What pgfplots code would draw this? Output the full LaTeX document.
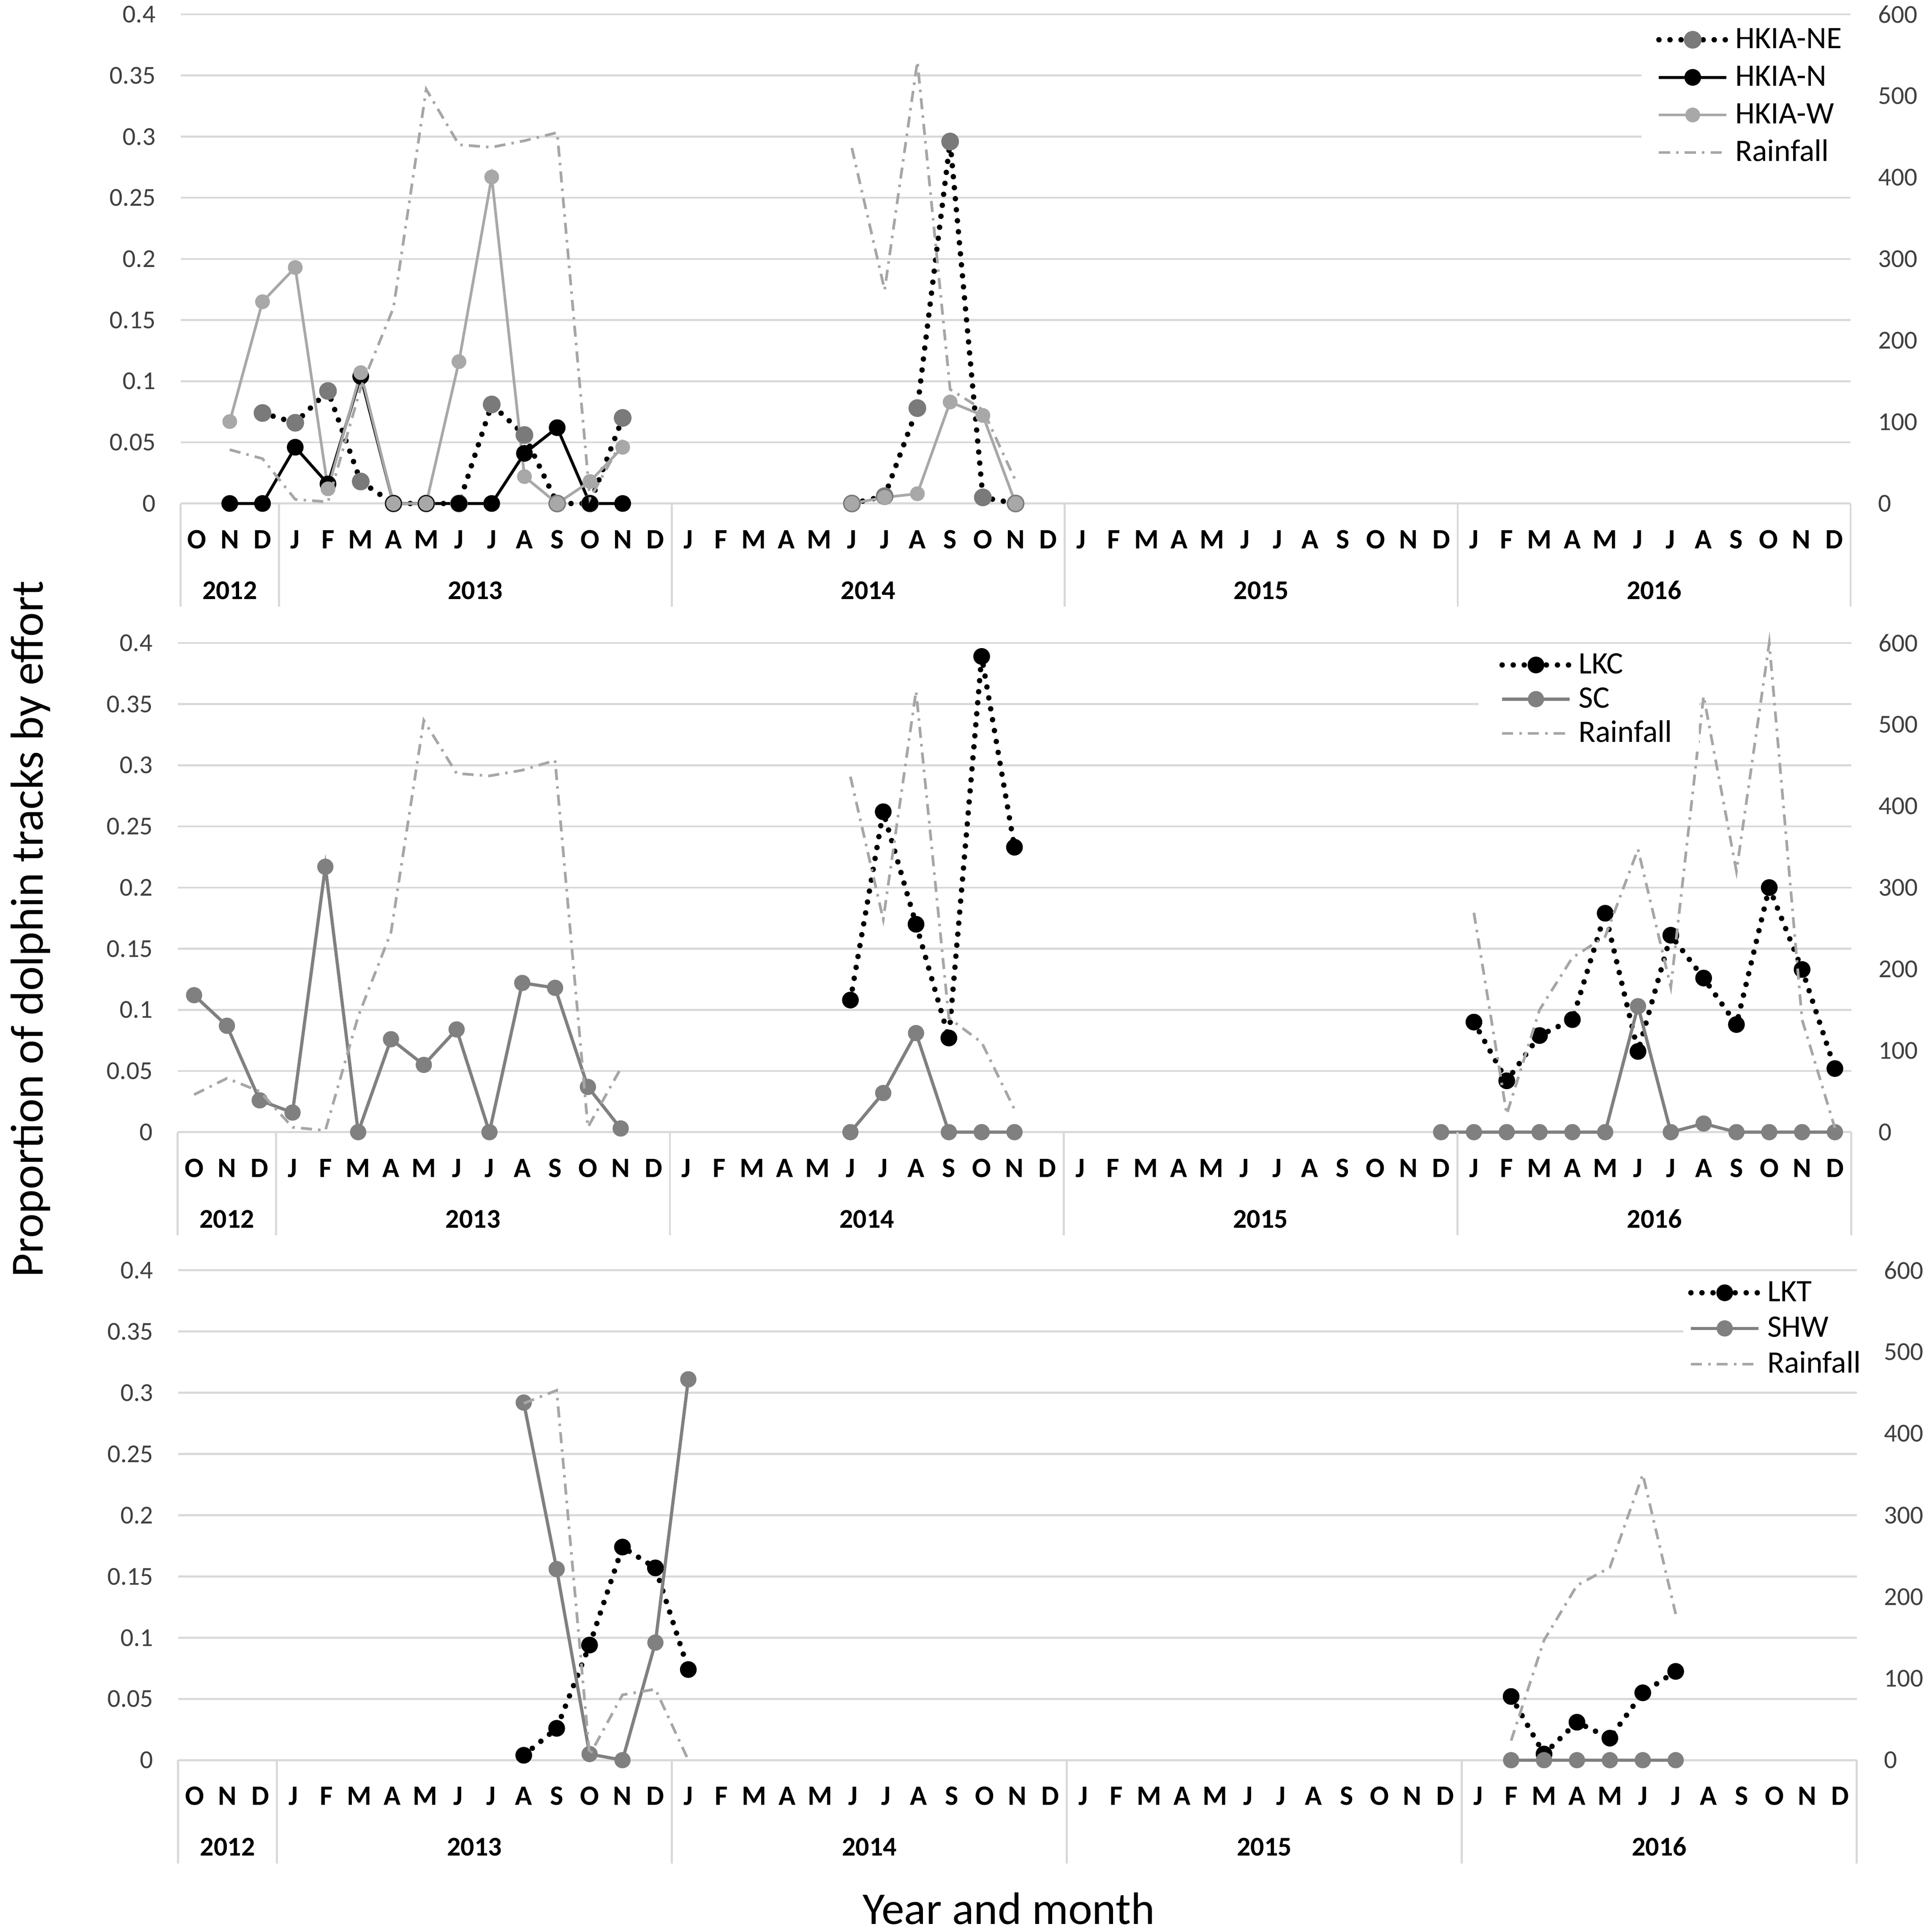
\documentclass[border=0pt]{standalone}
\usepackage{fontspec}
\setmainfont{Carlito}
\usepackage{pgfplots}
\pgfplotsset{compat=1.18}
\definecolor{gridc}{HTML}{D9D9D9}
\definecolor{sepc}{HTML}{D9D9D9}
\definecolor{negray}{HTML}{7A7A7A}
\definecolor{wgray}{HTML}{A8A8A8}
\definecolor{scgray}{HTML}{808080}
\definecolor{rainc}{HTML}{A6A6A6}
\definecolor{tickc}{HTML}{404040}

\tikzset{yearlab/.style={font=\bfseries\fontsize{11}{13}\selectfont, inner sep=0pt, text height=6.9pt, text depth=0pt, yshift=-35.5pt}}

\pgfplotsset{
 dotline/.style={black, line width=2.2pt, dash pattern=on 0pt off 4.5pt, line cap=round},
 nestyle/.style={dotline, mark=*, mark size=3.5pt, mark options={solid, line width=0.2pt, draw=negray, fill=negray}},
 nstyle/.style={black, line width=1.2pt, solid, mark=*, mark size=3.3pt, mark options={solid, line width=0.2pt, draw=black, fill=black}},
 wstyle/.style={wgray, line width=1.1pt, solid, mark=*, mark size=2.9pt, mark options={solid, line width=0.2pt, draw=wgray, fill=wgray}},
 blkdot/.style={dotline, mark=*, mark size=3.3pt, mark options={solid, line width=0.2pt, draw=black, fill=black}},
 graysolid/.style={scgray, line width=1.3pt, solid, mark=*, mark size=3.2pt, mark options={solid, line width=0.2pt, draw=scgray, fill=scgray}},
 rainstyle/.style={rainc, line width=1.1pt, dash pattern=on 4.5pt off 2.5pt on 1pt off 2.5pt, mark=none},
 base/.style={scale only axis, anchor=south west, xmin=-0.5, xmax=50.5, clip=false,
   unbounded coords=jump, axis line style={draw=none}, major tick length=0pt},
 leftax/.style={base, ymin=0, ymax=0.4,
   ytick={0,0.05,0.1,0.15,0.2,0.25,0.3,0.35,0.4},
   yticklabels={0,0.05,0.1,0.15,0.2,0.25,0.3,0.35,0.4},
   ymajorgrids, major grid style={gridc, line width=0.8pt},
   axis x line*=bottom, axis y line*=left,
   xtick={0,...,50},
   xticklabels={O,N,D,J,F,M,A,M,J,J,A,S,O,N,D,J,F,M,A,M,J,J,A,S,O,N,D,J,F,M,A,M,J,J,A,S,O,N,D,J,F,M,A,M,J,J,A,S,O,N,D},
   xticklabel style={font=\bfseries\fontsize{11.4}{13}\selectfont, inner sep=0pt, text height=7.3pt, text depth=0pt, yshift=-10.8pt},
   yticklabel style={font=\fontsize{10.5}{12}\selectfont, text=tickc, inner sep=0pt, xshift=-10pt}},
 rightax/.style={base, ymin=0, ymax=600,
   ytick={0,100,200,300,400,500,600}, yticklabels={0,100,200,300,400,500,600},
   axis x line=none, axis y line*=right,
   yticklabel style={font=\fontsize{10.5}{12}\selectfont, text=tickc, inner sep=0pt, xshift=11pt},
   legend cell align=left,
   legend image code/.code={\draw[mark repeat=2,mark phase=2,##1] plot coordinates {(0pt,0pt)(13.75pt,0pt)(27.5pt,0pt)};},
   legend style={anchor=north west, font=\fontsize{12.7}{14}\selectfont, draw=none, fill=white,
     inner ysep=0.5pt, row sep=0pt, column sep=0pt,
     nodes={inner xsep=2.5pt, text height=9.6pt, text depth=2.6pt}}},
}

\newcommand{\yearbox}{%
  \draw[sepc, line width=0.8pt] (axis cs:-0.5,0) -- ++(0pt,-42pt);
  \draw[sepc, line width=0.8pt] (axis cs:2.5,0) -- ++(0pt,-42pt);
  \draw[sepc, line width=0.8pt] (axis cs:14.5,0) -- ++(0pt,-42pt);
  \draw[sepc, line width=0.8pt] (axis cs:26.5,0) -- ++(0pt,-42pt);
  \draw[sepc, line width=0.8pt] (axis cs:38.5,0) -- ++(0pt,-42pt);
  \draw[sepc, line width=0.8pt] (axis cs:50.5,0) -- ++(0pt,-42pt);
  \node[yearlab] at (axis cs:1,0) {2012};
  \node[yearlab] at (axis cs:8.5,0) {2013};
  \node[yearlab] at (axis cs:20.5,0) {2014};
  \node[yearlab] at (axis cs:32.5,0) {2015};
  \node[yearlab] at (axis cs:44.5,0) {2016};
}

\begin{document}
\begin{tikzpicture}
\useasboundingbox (0,0) rectangle (784pt,786pt);

% ---------------- Panel 1 ----------------
\begin{axis}[leftax, at={(73.5pt,581.15pt)}, width=679.5pt, height=199pt]
\addplot[nestyle] coordinates {(2,0.074)(3,0.066)(4,0.092)(5,0.018)(6,0)(7,0)(8,0)(9,0.081)(10,0.056)(11,0)(12,0)(13,0.070)(14,nan)(20,0)(21,0.006)(22,0.078)(23,0.296)(24,0.005)(25,0)};
\addplot[nstyle] coordinates {(1,0)(2,0)(3,0.046)(4,0.016)(5,0.104)(6,0)(7,0)(8,0)(9,0)(10,0.041)(11,0.062)(12,0)(13,0)};
\addplot[wstyle] coordinates {(1,0.067)(2,0.165)(3,0.193)(4,0.012)(5,0.107)(6,0)(7,0)(8,0.116)(9,0.267)(10,0.022)(11,0)(12,0.018)(13,0.046)(14,nan)(20,0)(21,0.005)(22,0.008)(23,0.083)(24,0.072)(25,0)};
\yearbox
\end{axis}
\begin{axis}[rightax, at={(73.5pt,581.15pt)}, width=679.5pt, height=199pt,
  legend style={at={(0.8745,0.99)}, inner xsep=6pt, nodes={inner ysep=1.55pt}}]
\addlegendimage{nestyle}\addlegendentry{HKIA-NE}
\addlegendimage{nstyle}\addlegendentry{HKIA-N}
\addlegendimage{wstyle}\addlegendentry{HKIA-W}
\addplot[rainstyle] coordinates {(1,66)(2,55)(3,5)(4,2)(5,142)(6,240)(7,508)(8,440)(9,437)(10,445)(11,455)(12,6)(13,78)(14,nan)(20,436)(21,262)(22,542)(23,140)(24,115)(25,28)};
\addlegendentry{Rainfall}
\end{axis}

% ---------------- Panel 2 ----------------
\begin{axis}[leftax, at={(72.3pt,325.4pt)}, width=681pt, height=199pt]
\addplot[blkdot] coordinates {(20,0.108)(21,0.262)(22,0.170)(23,0.077)(24,0.389)(25,0.233)(26,nan)(39,0.090)(40,0.042)(41,0.079)(42,0.092)(43,0.179)(44,0.066)(45,0.161)(46,0.126)(47,0.088)(48,0.200)(49,0.133)(50,0.052)};
\addplot[graysolid] coordinates {(0,0.112)(1,0.087)(2,0.026)(3,0.016)(4,0.217)(5,0)(6,0.076)(7,0.055)(8,0.084)(9,0)(10,0.122)(11,0.118)(12,0.037)(13,0.003)(14,nan)(20,0)(21,0.032)(22,0.081)(23,0)(24,0)(25,0)(26,nan)(38,0)(39,0)(40,0)(41,0)(42,0)(43,0)(44,0.103)(45,0)(46,0.007)(47,0)(48,0)(49,0)(50,0)};
\yearbox
\end{axis}
\begin{axis}[rightax, at={(72.3pt,325.4pt)}, width=681pt, height=199pt,
  legend style={at={(0.777,0.9935)}, inner xsep=8.5pt, nodes={inner ysep=0.85pt}}]
\addlegendimage{blkdot}\addlegendentry{LKC}
\addlegendimage{graysolid}\addlegendentry{SC}
\addplot[rainstyle] coordinates {(0,46)(1,66)(2,50)(3,6)(4,2)(5,142)(6,245)(7,505)(8,440)(9,437)(10,444)(11,456)(12,6)(13,78)(14,nan)(20,436)(21,261)(22,541)(23,140)(24,110)(25,28)(26,nan)(39,269)(40,22)(41,150)(42,214)(43,240)(44,347)(45,178)(46,535)(47,320)(48,600)(49,138)(50,5)};
\addlegendentry{Rainfall}
\end{axis}

% ---------------- Panel 3 ----------------
\begin{axis}[leftax, at={(72.5pt,69.9pt)}, width=683pt, height=199.3pt]
\addplot[blkdot] coordinates {(10,0.004)(11,0.026)(12,0.094)(13,0.174)(14,0.157)(15,0.074)(16,nan)(40,0.052)(41,0.005)(42,0.031)(43,0.018)(44,0.055)(45,0.0725)};
\addplot[graysolid] coordinates {(10,0.292)(11,0.156)(12,0.005)(13,0)(14,0.096)(15,0.311)(16,nan)(40,0)(41,0)(42,0)(43,0)(44,0)(45,0)};
\yearbox
\end{axis}
\begin{axis}[rightax, at={(72.5pt,69.9pt)}, width=683pt, height=199.3pt,
  legend style={at={(0.8964,0.994)}, inner xsep=2pt, nodes={inner ysep=1.15pt}}]
\addlegendimage{blkdot}\addlegendentry{LKT}
\addlegendimage{graysolid}\addlegendentry{SHW}
\addplot[rainstyle] coordinates {(10,437)(11,453)(12,6)(13,80)(14,87)(15,0)(16,nan)(40,24)(41,147)(42,214)(43,236)(44,350)(45,179)};
\addlegendentry{Rainfall}
\end{axis}

% axis titles
\node[rotate=90, anchor=base, font=\fontsize{18.8}{21}\selectfont] at (17.5pt,408pt) {Proportion of dolphin tracks by effort};
\node[anchor=base, font=\fontsize{18.5}{21}\selectfont, text depth=0pt] at (410.5pt,3.2pt) {Year and month};
\end{tikzpicture}
\end{document}
